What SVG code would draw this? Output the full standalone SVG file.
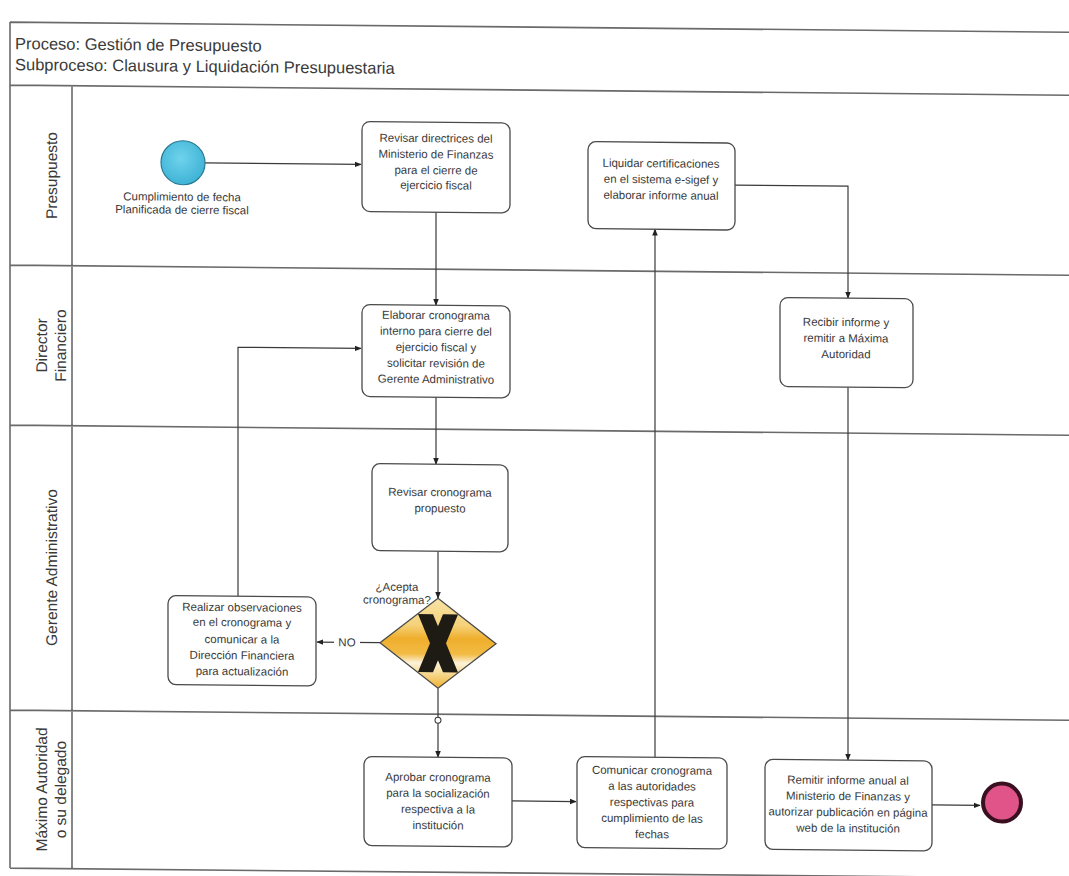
<svg xmlns="http://www.w3.org/2000/svg" width="1069" height="876" viewBox="0 0 1069 876">
  <defs>
    <style>
      .frame { stroke: #6a6a6a; stroke-width: 1.6; fill: none; }
      .task rect { fill: #ffffff; stroke: #4a4a4a; stroke-width: 1.3; }
      .t { font-family: "Liberation Sans", Arial, sans-serif; font-size: 11.5px; fill: #3a3a3a; text-anchor: middle; }
      .title { font-family: "Liberation Sans", Arial, sans-serif; font-size: 16.5px; fill: #3a3a3a; }
      .lane { font-family: "Liberation Sans", Arial, sans-serif; font-size: 15.5px; fill: #3a3a3a; text-anchor: middle; }
      .flow { stroke: #3a3a3a; stroke-width: 1.2; fill: none; marker-end: url(#arrow); }
    </style>
    <marker id="arrow" viewBox="0 0 10 10" refX="9" refY="5" markerWidth="7" markerHeight="7" orient="auto" markerUnits="userSpaceOnUse">
      <path d="M0,1 L10,5 L0,9 z" fill="#222"/>
    </marker>
    <linearGradient id="gwFill" x1="0" y1="0" x2="0" y2="1">
      <stop offset="0" stop-color="#f8e3a6"/>
      <stop offset="0.3" stop-color="#f5d27a"/>
      <stop offset="0.45" stop-color="#efae2c"/>
      <stop offset="0.62" stop-color="#f2bb45"/>
      <stop offset="0.72" stop-color="#fdf3da"/>
      <stop offset="0.85" stop-color="#f6d68a"/>
      <stop offset="1" stop-color="#efb030"/>
    </linearGradient>
    <radialGradient id="startFill" cx="0.45" cy="0.4" r="0.6">
      <stop offset="0" stop-color="#6fd3ec"/>
      <stop offset="1" stop-color="#3fb3d6"/>
    </radialGradient>
  </defs>

  <rect x="0" y="0" width="1069" height="876" fill="#ffffff"/>

  <g transform="skewY(0.55)">
    <!-- pool frame, header and lanes -->
    <g id="pool">
      <path class="frame" d="M10,22 H1069 M10,85 H1069 M10,265 H1069 M10,425 H1069 M10,710 H1069 M10,868 H1069 M10,22 V868 M72,85 V868"/>
      <text class="title" x="15" y="49">Proceso: Gestión de Presupuesto</text>
      <text class="title" x="15" y="70">Subproceso: Clausura y Liquidación Presupuestaria</text>
    </g>

    <g id="lane-presupuesto">
      <text class="lane" transform="translate(57,175) rotate(-90)">Presupuesto</text>
    </g>
    <g id="lane-director">
      <text class="lane" transform="translate(47,345) rotate(-90)">Director</text>
      <text class="lane" transform="translate(66,345) rotate(-90)">Financiero</text>
    </g>
    <g id="lane-gerente">
      <text class="lane" transform="translate(57,567) rotate(-90)">Gerente Administrativo</text>
    </g>
    <g id="lane-maxima">
      <text class="lane" transform="translate(47,789) rotate(-90)">Máximo Autoridad</text>
      <text class="lane" transform="translate(66,789) rotate(-90)">o su delegado</text>
    </g>

    <!-- sequence flows -->
    <g id="connectors">
      <path class="flow" d="M205,161 H361"/>
      <path class="flow" d="M436,208 V301"/>
      <path class="flow" d="M436,393 V460"/>
      <path class="flow" d="M438,547 V594"/>
      <path class="flow" d="M380,639 H317"/>
      <path class="flow" d="M238,594 V345 H361"/>
      <path class="flow" d="M438,684 V753"/>
      <circle cx="438" cy="716" r="3" fill="#ffffff" stroke="#3a3a3a" stroke-width="1"/>
      <path class="flow" d="M512,796 H576"/>
      <path class="flow" d="M655,751 V223"/>
      <path class="flow" d="M735,178 H848 V290"/>
      <path class="flow" d="M848,379 V752"/>
      <path class="flow" d="M932,796 H980"/>
      <rect x="334" y="632" width="26" height="14" fill="#ffffff"/>
      <text class="t" x="347" y="643" font-size="10.5">NO</text>
    </g>

    <g id="start">
      <circle cx="183" cy="161" r="22" fill="url(#startFill)" stroke="#2b7a92" stroke-width="1.2"/>
      <text class="t" x="182" y="199" font-size="10.5">Cumplimiento de fecha</text>
      <text class="t" x="182" y="212" font-size="10.5">Planificada de cierre fiscal</text>
    </g>

    <g id="revisar-directrices" class="task">
      <rect x="362" y="118" width="148" height="90" rx="8"/>
      <text class="t" x="436" y="138">Revisar directrices del</text>
      <text class="t" x="436" y="154">Ministerio de Finanzas</text>
      <text class="t" x="436" y="170" font-size="10.5">para el cierre de</text>
      <text class="t" x="436" y="185" font-size="10.5">ejercicio fiscal</text>
    </g>

    <g id="liquidar" class="task">
      <rect x="588" y="136" width="147" height="87" rx="8"/>
      <text class="t" x="661" y="161">Liquidar certificaciones</text>
      <text class="t" x="661" y="177">en el sistema e-sigef y</text>
      <text class="t" x="661" y="193">elaborar informe anual</text>
    </g>

    <g id="elaborar-cronograma" class="task">
      <rect x="362" y="301" width="148" height="92" rx="8"/>
      <text class="t" x="436" y="315">Elaborar cronograma</text>
      <text class="t" x="436" y="331">interno para cierre del</text>
      <text class="t" x="436" y="347">ejercicio fiscal y</text>
      <text class="t" x="436" y="363">solicitar revisión de</text>
      <text class="t" x="436" y="379">Gerente Administrativo</text>
    </g>

    <g id="recibir-informe" class="task">
      <rect x="780" y="290" width="133" height="89" rx="8"/>
      <text class="t" x="846" y="318">Recibir informe y</text>
      <text class="t" x="846" y="334">remitir a Máxima</text>
      <text class="t" x="846" y="350">Autoridad</text>
    </g>

    <g id="revisar-cronograma" class="task">
      <rect x="372" y="460" width="136" height="87" rx="8"/>
      <text class="t" x="440" y="492">Revisar cronograma</text>
      <text class="t" x="440" y="508">propuesto</text>
    </g>

    <g id="gateway">
      <path d="M438,594 L496,639 L438,684 L380,639 Z" fill="url(#gwFill)" stroke="#4a4a4a" stroke-width="1.3"/>
      <path d="M418,610 H433 L438,622 L443,610 H458 L446,639 L458,668 H443 L438,656 L433,668 H418 L430,639 Z" fill="#1e1a14"/>
      <text class="t" x="397" y="587" font-size="10.5">¿Acepta</text>
      <text class="t" x="397" y="600" font-size="10.5">cronograma?</text>
    </g>

    <g id="realizar-observaciones" class="task">
      <rect x="168" y="594" width="148" height="89" rx="8"/>
      <text class="t" x="242" y="609">Realizar observaciones</text>
      <text class="t" x="242" y="624" font-size="10.5">en el cronograma y</text>
      <text class="t" x="242" y="641">comunicar a la</text>
      <text class="t" x="242" y="657">Dirección Financiera</text>
      <text class="t" x="242" y="673">para actualización</text>
    </g>

    <g id="aprobar-cronograma" class="task">
      <rect x="364" y="753" width="148" height="89" rx="8"/>
      <text class="t" x="438" y="777">Aprobar cronograma</text>
      <text class="t" x="438" y="793">para la socialización</text>
      <text class="t" x="438" y="809">respectiva a la</text>
      <text class="t" x="438" y="825">institución</text>
    </g>

    <g id="comunicar-cronograma" class="task">
      <rect x="577" y="751" width="150" height="91" rx="8"/>
      <text class="t" x="652" y="768">Comunicar cronograma</text>
      <text class="t" x="652" y="784">a las autoridades</text>
      <text class="t" x="652" y="800">respectivas para</text>
      <text class="t" x="652" y="816">cumplimiento de las</text>
      <text class="t" x="652" y="832">fechas</text>
    </g>

    <g id="remitir-informe" class="task">
      <rect x="765" y="752" width="167" height="90" rx="8"/>
      <text class="t" x="848" y="776" font-size="10.8">Remitir informe anual al</text>
      <text class="t" x="848" y="792" font-size="10.8">Ministerio de Finanzas y</text>
      <text class="t" x="848" y="808" font-size="10.8">autorizar publicación en página</text>
      <text class="t" x="848" y="824" font-size="10.8">web de la institución</text>
    </g>

    <g id="end">
      <circle cx="1002" cy="793" r="19" fill="#e0548a" stroke="#3a1020" stroke-width="4"/>
    </g>
  </g>
</svg>
